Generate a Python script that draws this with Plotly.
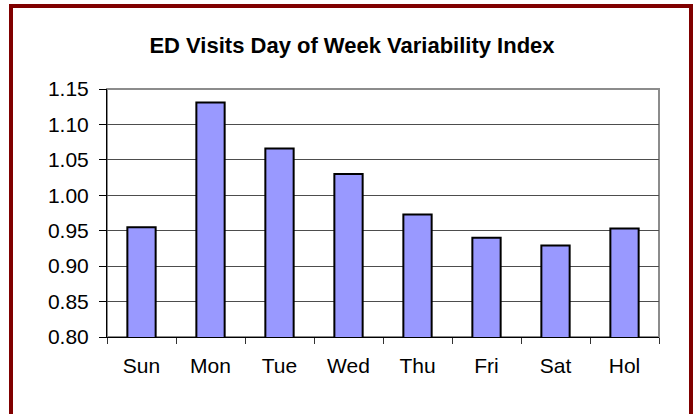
import plotly.graph_objects as go

days = ["Sun", "Mon", "Tue", "Wed", "Thu", "Fri", "Sat", "Hol"]
index_values = [0.955, 1.131, 1.066, 1.030, 0.973, 0.940, 0.929, 0.953]
y_ticks = [0.80, 0.85, 0.90, 0.95, 1.00, 1.05, 1.10, 1.15]
title_text = "ED Visits Day of Week Variability Index"

W, H = 696, 414
L, R, T, B = 107, 659, 89, 337

fig = go.Figure(go.Bar(
    x=days, y=index_values,
    marker=dict(color="#9999FF", line=dict(color="#000000", width=2)),
    width=0.41,
))

def px_x(p):
    return (p - L) / (R - L)

def px_y(p):
    return (B - p) / (B - T)

FONT = "Liberation Sans, Arial, sans-serif"

fig.update_layout(
    width=W, height=H,
    margin=dict(l=L, r=W - R, t=T, b=H - B),
    paper_bgcolor="white", plot_bgcolor="white",
    font=dict(family=FONT, size=21, color="black"),
    title=dict(text="<b>" + title_text + "</b>", x=352 / W, xanchor="center",
               y=1 - 45 / H, yanchor="middle",
               font=dict(size=22, family=FONT)),
    showlegend=False,
    xaxis=dict(type="category", showline=True, linecolor="black", linewidth=1,
               ticks="outside", tickson="boundaries", ticklen=6, tickcolor="#333333",
               showgrid=False, ticklabelstandoff=10, tickfont=dict(size=21)),
    yaxis=dict(range=[0.80, 1.15], tickvals=y_ticks,
               ticktext=[f"{v:.2f}" for v in y_ticks],
               showline=True, linecolor="black", linewidth=1,
               ticks="outside", ticklen=7, tickcolor="black",
               showgrid=True, gridcolor="#4d4d4d", gridwidth=1, zeroline=False,
               ticklabelstandoff=6, tickfont=dict(size=21)),
    shapes=[
        dict(type="rect", xref="paper", yref="paper", x0=0, x1=1, y0=0, y1=1,
             line=dict(color="#8c8c8c", width=2), layer="below"),
        dict(type="rect", xref="paper", yref="paper",
             x0=px_x(11), x1=px_x(691), y0=px_y(425), y1=px_y(6),
             line=dict(color="#800000", width=4)),
    ],
)

fig.write_html("out.html", config={"displayModeBar": False},
               post_script="document.body.style.margin='0';document.body.style.overflow='hidden';")
